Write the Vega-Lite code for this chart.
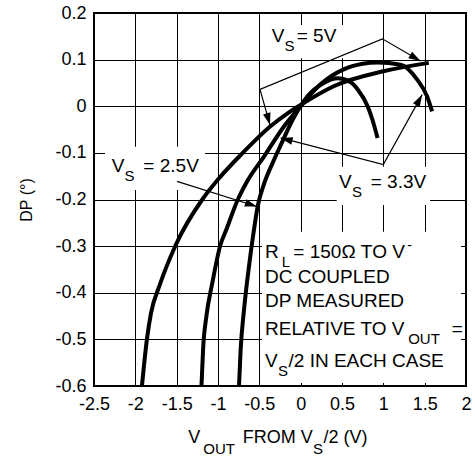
{
  "$schema": "https://vega.github.io/schema/vega-lite/v6.json",
  "width": 372,
  "height": 373,
  "autosize": {"type": "none"},
  "padding": {"left": 94, "top": 13, "right": 9, "bottom": 76},
  "background": "white",
  "config": {
    "view": {"stroke": "black", "strokeWidth": 2},
    "axis": {
      "labelFont": "Liberation Sans",
      "titleFont": "Liberation Sans",
      "labelColor": "black",
      "titleColor": "black",
      "gridColor": "black",
      "gridOpacity": 1,
      "gridWidth": 1,
      "domain": false,
      "ticks": false,
      "labelFlush": false,
      "labelOverlap": false
    },
    "text": {"font": "Liberation Sans", "color": "black"}
  },
  "datasets": {
    "boxes": [
      {"x": -0.39, "xe": 0.56, "y": 0.103, "ye": 0.174},
      {"x": 0.436, "xe": 1.565, "y": -0.2118, "ye": -0.1296},
      {"x": -2.367, "xe": -1.157, "y": -0.1796, "ye": -0.0867},
      {"x": -0.468, "xe": 1.94, "y": -0.5936, "ye": -0.269}
    ],
    "curves": [
      {"series": "5V", "i": 1, "x": -1.92, "y": -0.6},
      {"series": "5V", "i": 2, "x": -1.86, "y": -0.5},
      {"series": "5V", "i": 3, "x": -1.81, "y": -0.443},
      {"series": "5V", "i": 4, "x": -1.71, "y": -0.386},
      {"series": "5V", "i": 5, "x": -1.51, "y": -0.297},
      {"series": "5V", "i": 6, "x": -1.19, "y": -0.2},
      {"series": "5V", "i": 7, "x": -0.99, "y": -0.155},
      {"series": "5V", "i": 8, "x": -0.7, "y": -0.1},
      {"series": "5V", "i": 9, "x": -0.38, "y": -0.045},
      {"series": "5V", "i": 10, "x": -0.15, "y": -0.014},
      {"series": "5V", "i": 11, "x": 0, "y": 0.003},
      {"series": "5V", "i": 12, "x": 0.4, "y": 0.043},
      {"series": "5V", "i": 13, "x": 1.0, "y": 0.075},
      {"series": "5V", "i": 14, "x": 1.55, "y": 0.093},
      {"series": "3.3V", "i": 1, "x": -1.2, "y": -0.6},
      {"series": "3.3V", "i": 2, "x": -1.18, "y": -0.52},
      {"series": "3.3V", "i": 3, "x": -1.14, "y": -0.45},
      {"series": "3.3V", "i": 4, "x": -1.07, "y": -0.38},
      {"series": "3.3V", "i": 5, "x": -0.97, "y": -0.297},
      {"series": "3.3V", "i": 6, "x": -0.9, "y": -0.265},
      {"series": "3.3V", "i": 7, "x": -0.76, "y": -0.2},
      {"series": "3.3V", "i": 8, "x": -0.66, "y": -0.165},
      {"series": "3.3V", "i": 9, "x": -0.44, "y": -0.107},
      {"series": "3.3V", "i": 10, "x": -0.2, "y": -0.043},
      {"series": "3.3V", "i": 11, "x": 0, "y": 0},
      {"series": "3.3V", "i": 12, "x": 0.24, "y": 0.047},
      {"series": "3.3V", "i": 13, "x": 0.52, "y": 0.079},
      {"series": "3.3V", "i": 14, "x": 0.75, "y": 0.091},
      {"series": "3.3V", "i": 15, "x": 0.93, "y": 0.094},
      {"series": "3.3V", "i": 16, "x": 1.21, "y": 0.089},
      {"series": "3.3V", "i": 17, "x": 1.41, "y": 0.057},
      {"series": "3.3V", "i": 18, "x": 1.53, "y": 0.021},
      {"series": "3.3V", "i": 19, "x": 1.59, "y": -0.011},
      {"series": "2.5V", "i": 1, "x": -0.746, "y": -0.6},
      {"series": "2.5V", "i": 2, "x": -0.726, "y": -0.522},
      {"series": "2.5V", "i": 3, "x": -0.685, "y": -0.436},
      {"series": "2.5V", "i": 4, "x": -0.625, "y": -0.343},
      {"series": "2.5V", "i": 5, "x": -0.565, "y": -0.265},
      {"series": "2.5V", "i": 6, "x": -0.52, "y": -0.215},
      {"series": "2.5V", "i": 7, "x": -0.44, "y": -0.165},
      {"series": "2.5V", "i": 8, "x": -0.34, "y": -0.122},
      {"series": "2.5V", "i": 9, "x": -0.24, "y": -0.083},
      {"series": "2.5V", "i": 10, "x": -0.1, "y": -0.03},
      {"series": "2.5V", "i": 11, "x": 0.08, "y": 0.021},
      {"series": "2.5V", "i": 12, "x": 0.28, "y": 0.05},
      {"series": "2.5V", "i": 13, "x": 0.45, "y": 0.06},
      {"series": "2.5V", "i": 14, "x": 0.6, "y": 0.052},
      {"series": "2.5V", "i": 15, "x": 0.69, "y": 0.036},
      {"series": "2.5V", "i": 16, "x": 0.81, "y": 0.0},
      {"series": "2.5V", "i": 17, "x": 0.87, "y": -0.03},
      {"series": "2.5V", "i": 18, "x": 0.93, "y": -0.068}
    ],
    "arrows": [
      {"g": "a5", "i": 1, "x": -0.371, "y": -0.04},
      {"g": "a5", "i": 2, "x": -0.492, "y": 0.036},
      {"g": "a5", "i": 3, "x": 0.988, "y": 0.1446},
      {"g": "a5", "i": 4, "x": 1.45, "y": 0.097},
      {"g": "a33", "i": 1, "x": -0.242, "y": -0.068},
      {"g": "a33", "i": 2, "x": 1.0, "y": -0.125},
      {"g": "a33", "i": 3, "x": 1.47, "y": 0.025},
      {"g": "a25", "i": 1, "x": -1.496, "y": -0.161},
      {"g": "a25", "i": 2, "x": -0.53, "y": -0.215}
    ],
    "heads": [
      {"x": -0.371, "y": -0.04, "fx": -0.492, "fy": 0.036},
      {"x": 1.45, "y": 0.097, "fx": 0.988, "fy": 0.1446},
      {"x": -0.242, "y": -0.068, "fx": 1.0, "fy": -0.125},
      {"x": 1.47, "y": 0.025, "fx": 1.0, "fy": -0.125},
      {"x": -0.53, "y": -0.215, "fx": -1.496, "fy": -0.161}
    ],
    "labels": [
      {"k": "main", "t": "V", "x": -0.35, "y": 0.138},
      {"k": "sub", "t": "S", "x": -0.196, "y": 0.138},
      {"k": "main", "t": "= 5V", "x": -0.048, "y": 0.138},
      {"k": "main", "t": "V", "x": 0.464, "y": -0.176},
      {"k": "sub", "t": "S", "x": 0.621, "y": -0.176},
      {"k": "main", "t": "= 3.3V", "x": 0.847, "y": -0.176},
      {"k": "main", "t": "V", "x": -2.286, "y": -0.14},
      {"k": "sub", "t": "S", "x": -2.131, "y": -0.14},
      {"k": "main", "t": "= 2.5V", "x": -1.903, "y": -0.14},
      {"k": "main", "t": "R", "x": -0.431, "y": -0.326},
      {"k": "sub", "t": "L", "x": -0.229, "y": -0.326},
      {"k": "main", "t": "= 150Ω TO V", "x": -0.089, "y": -0.326},
      {"k": "sup", "t": "-", "x": 1.29, "y": -0.326},
      {"k": "main", "t": "DC COUPLED", "x": -0.431, "y": -0.38},
      {"k": "main", "t": "DP MEASURED", "x": -0.431, "y": -0.431},
      {"k": "main", "t": "RELATIVE TO V", "x": -0.431, "y": -0.4906},
      {"k": "sub", "t": "OUT", "x": 1.3, "y": -0.4906},
      {"k": "main", "t": "=", "x": 1.827, "y": -0.4906},
      {"k": "main", "t": "V", "x": -0.431, "y": -0.5586},
      {"k": "sub", "t": "S", "x": -0.274, "y": -0.5586},
      {"k": "main", "t": "/2 IN EACH CASE", "x": -0.147, "y": -0.5586},
      {"k": "tmain", "t": "V", "x": -1.359, "y": -0.7229},
      {"k": "tsub", "t": "OUT", "x": -1.178, "y": -0.7229},
      {"k": "tmain", "t": "FROM V", "x": -0.701, "y": -0.7229},
      {"k": "tsub", "t": "S", "x": 0.149, "y": -0.7229},
      {"k": "tmain", "t": "/2 (V)", "x": 0.276, "y": -0.7229}
    ]
  },
  "layer": [
    {
      "data": {"name": "boxes"},
      "mark": {"type": "rect", "fill": "white", "strokeWidth": 0},
      "encoding": {
        "x": {"field": "x", "type": "quantitative"},
        "x2": {"field": "xe"},
        "y": {"field": "y", "type": "quantitative"},
        "y2": {"field": "ye"}
      }
    },
    {
      "data": {"name": "curves"},
      "mark": {"type": "line", "color": "black", "strokeWidth": 4, "interpolate": "monotone"},
      "encoding": {
        "x": {
          "field": "x", "type": "quantitative",
          "scale": {"domain": [-2.5, 2], "nice": false, "zero": false},
          "axis": {
            "title": null,
            "values": [-2.5, -2, -1.5, -1, -0.5, 0, 0.5, 1, 1.5, 2],
            "format": "~f",
            "labelExpr": "replace(datum.label, '−', '-')",
            "labelFontSize": 18,
            "labelPadding": 9,
            "grid": true
          }
        },
        "y": {
          "field": "y", "type": "quantitative",
          "scale": {"domain": [-0.6, 0.2], "nice": false, "zero": false},
          "axis": {
            "title": "DP (°)",
            "values": [-0.6, -0.5, -0.4, -0.3, -0.2, -0.1, 0, 0.1, 0.2],
            "format": "~f",
            "labelExpr": "replace(datum.label, '−', '-')",
            "labelFontSize": 18,
            "labelPadding": 8,
            "titleFontSize": 16,
            "titleFontWeight": "normal",
            "titlePadding": 20,
            "grid": true
          }
        },
        "detail": {"field": "series"},
        "order": {"field": "i", "type": "quantitative"}
      }
    },
    {
      "data": {"name": "arrows"},
      "mark": {"type": "line", "color": "black", "strokeWidth": 1.2},
      "encoding": {
        "x": {"field": "x", "type": "quantitative"},
        "y": {"field": "y", "type": "quantitative"},
        "detail": {"field": "g"},
        "order": {"field": "i", "type": "quantitative"}
      }
    },
    {
      "data": {"name": "heads"},
      "transform": [
        {"calculate": "atan2((datum.x - datum.fx) * 82.667, (datum.y - datum.fy) * 466.25) * 180 / PI", "as": "ang"}
      ],
      "mark": {"type": "point", "shape": "M0,0L-0.32,1L0.32,1Z", "filled": true, "color": "black", "opacity": 1, "size": 576, "strokeWidth": 0},
      "encoding": {
        "x": {"field": "x", "type": "quantitative"},
        "y": {"field": "y", "type": "quantitative"},
        "angle": {"field": "ang", "type": "quantitative", "scale": null}
      }
    },
    {
      "data": {"name": "labels"},
      "transform": [{"filter": "datum.k == 'main'"}],
      "mark": {"type": "text", "align": "left", "baseline": "alphabetic", "fontSize": 19},
      "encoding": {
        "x": {"field": "x", "type": "quantitative"},
        "y": {"field": "y", "type": "quantitative"},
        "text": {"field": "t"}
      }
    },
    {
      "data": {"name": "labels"},
      "transform": [{"filter": "datum.k == 'tmain'"}],
      "mark": {"type": "text", "align": "left", "baseline": "alphabetic", "fontSize": 18},
      "encoding": {
        "x": {"field": "x", "type": "quantitative"},
        "y": {"field": "y", "type": "quantitative"},
        "text": {"field": "t"}
      }
    },
    {
      "data": {"name": "labels"},
      "transform": [{"filter": "datum.k == 'sub'"}],
      "mark": {"type": "text", "align": "left", "baseline": "alphabetic", "fontSize": 15, "dy": 9},
      "encoding": {
        "x": {"field": "x", "type": "quantitative"},
        "y": {"field": "y", "type": "quantitative"},
        "text": {"field": "t"}
      }
    },
    {
      "data": {"name": "labels"},
      "transform": [{"filter": "datum.k == 'tsub'"}],
      "mark": {"type": "text", "align": "left", "baseline": "alphabetic", "fontSize": 15, "dy": 11},
      "encoding": {
        "x": {"field": "x", "type": "quantitative"},
        "y": {"field": "y", "type": "quantitative"},
        "text": {"field": "t"}
      }
    },
    {
      "data": {"name": "labels"},
      "transform": [{"filter": "datum.k == 'sup'"}],
      "mark": {"type": "text", "align": "left", "baseline": "alphabetic", "fontSize": 14, "dy": -8},
      "encoding": {
        "x": {"field": "x", "type": "quantitative"},
        "y": {"field": "y", "type": "quantitative"},
        "text": {"field": "t"}
      }
    }
  ]
}
